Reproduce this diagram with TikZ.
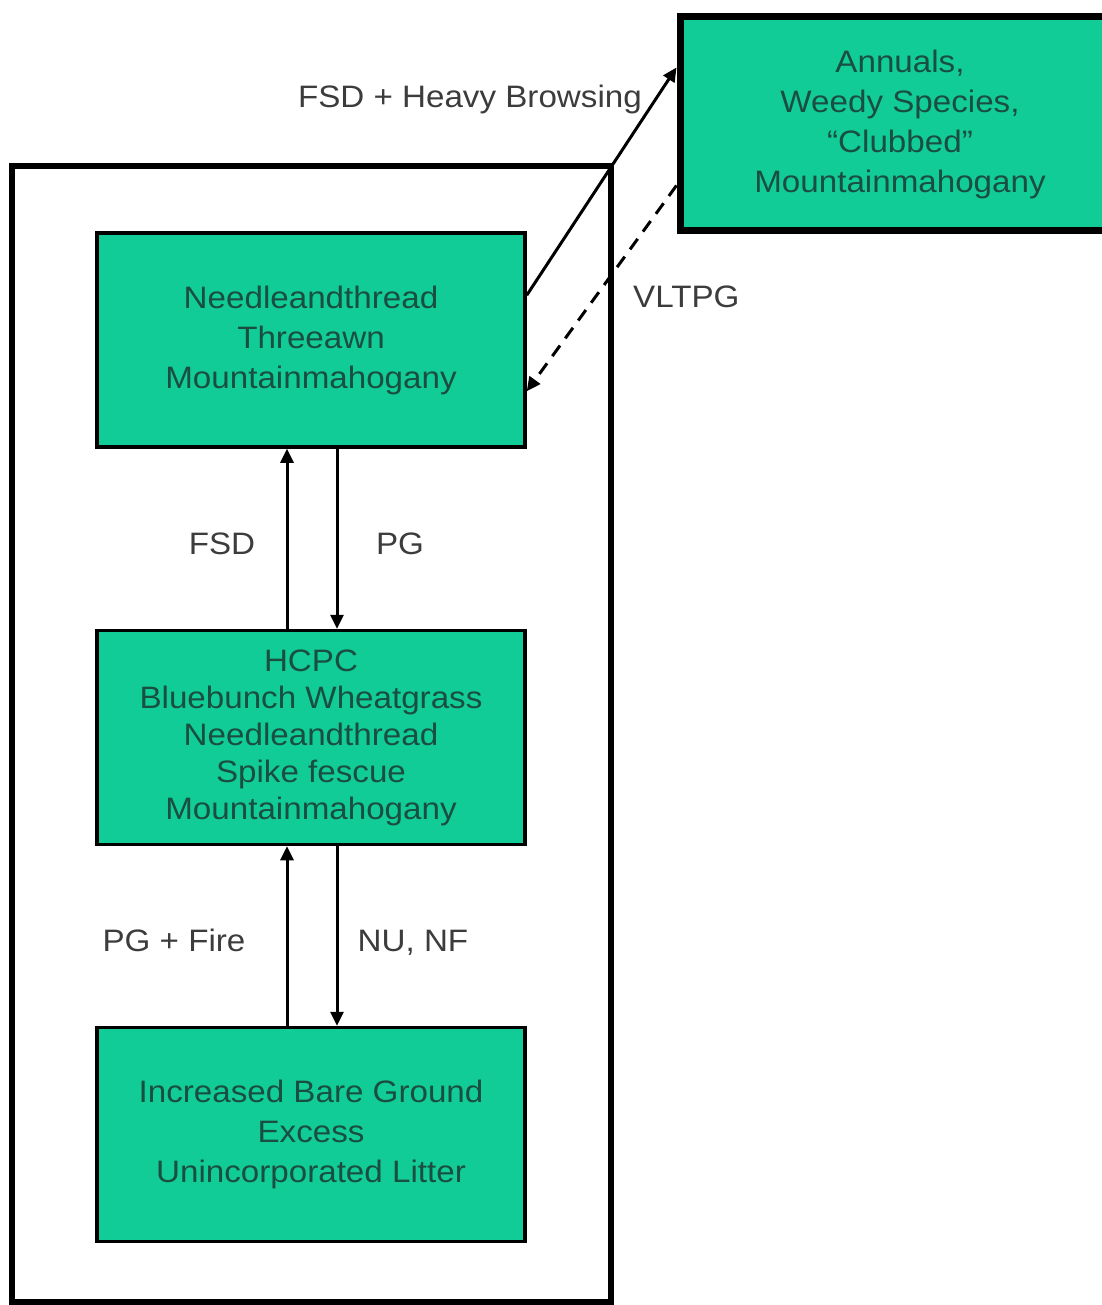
\documentclass[tikz,border=0pt]{standalone}
\usepackage{fontspec}
\setmainfont{Liberation Sans}[FakeStretch=1.07]
\usetikzlibrary{arrows.meta}
\definecolor{boxfill}{HTML}{12CC98}
\definecolor{boxtext}{HTML}{1A4E40}
\definecolor{labtext}{HTML}{3C3C3C}
\begin{document}
\begin{tikzpicture}[x=1pt,y=-1pt,
  statebox/.style={draw=black, line width=3.5pt, fill=boxfill, text=boxtext,
    minimum width=428pt, minimum height=214pt, align=center, inner sep=0pt,
    font=\fontsize{31}{40}\selectfont},
  lab/.style={text=labtext, font=\fontsize{31}{38}\selectfont, inner sep=0pt,
    text height=22pt, text depth=0pt},
  arr/.style={line width=3pt, -{Triangle[length=14pt,width=13pt]}},
  darr/.style={arr, dash pattern=on 13pt off 9pt}]
\useasboundingbox (0,0) rectangle (1101,1305);
% outer frame
\node[draw=black, line width=6pt, minimum width=599pt, minimum height=1136pt, inner sep=0pt] (frame) at (311.5,734) {};
% state boxes
\node[statebox] (b1) at (311,340) {Needleandthread\\Threeawn\\Mountainmahogany};
\node[statebox, font=\fontsize{31}{37}\selectfont] (b2) at (311,737.5) {HCPC\\Bluebunch Wheatgrass\\Needleandthread\\Spike fescue\\Mountainmahogany};
\node[statebox] (b3) at (311,1134.5) {Increased Bare Ground\\Excess\\Unincorporated Litter};
\node[statebox, line width=7pt, minimum width=440pt, minimum height=214pt] (tr) at (900,124) {Annuals,\\Weedy Species,\\``Clubbed''\\Mountainmahogany};
% vertical transitions
\draw[arr] ([xshift=-24pt]b2.north) -- ([xshift=-24pt]b1.south);
\draw[arr] ([xshift=26pt]b1.south) -- ([xshift=26pt]b2.north);
\draw[arr] ([xshift=-24pt]b3.north) -- ([xshift=-24pt]b2.south);
\draw[arr] ([xshift=26pt]b2.south) -- ([xshift=26pt]b3.north);
% diagonal transitions
\path (b1.north east) ++(0,64) coordinate (s1);
\path (tr.north west) ++(0,54) coordinate (e1);
\path (tr.north west) ++(0,172) coordinate (s2);
\path (b1.north east) ++(0,160) coordinate (e2);
\draw[arr] (s1) -- (e1);
\draw[darr] (s2) -- (e2);
% labels
\node[lab] (l1) at (222,543) {FSD};
\node[lab] (l2) at (400,543) {PG};
\node[lab] (l3) at (174,940) {PG + Fire};
\node[lab] (l4) at (413,940) {NU, NF};
\node[lab, anchor=east] (l5) at (642,97) {FSD + Heavy Browsing};
\node[lab, anchor=west] (l6) at (633,296) {VLTPG};
\end{tikzpicture}
\end{document}
